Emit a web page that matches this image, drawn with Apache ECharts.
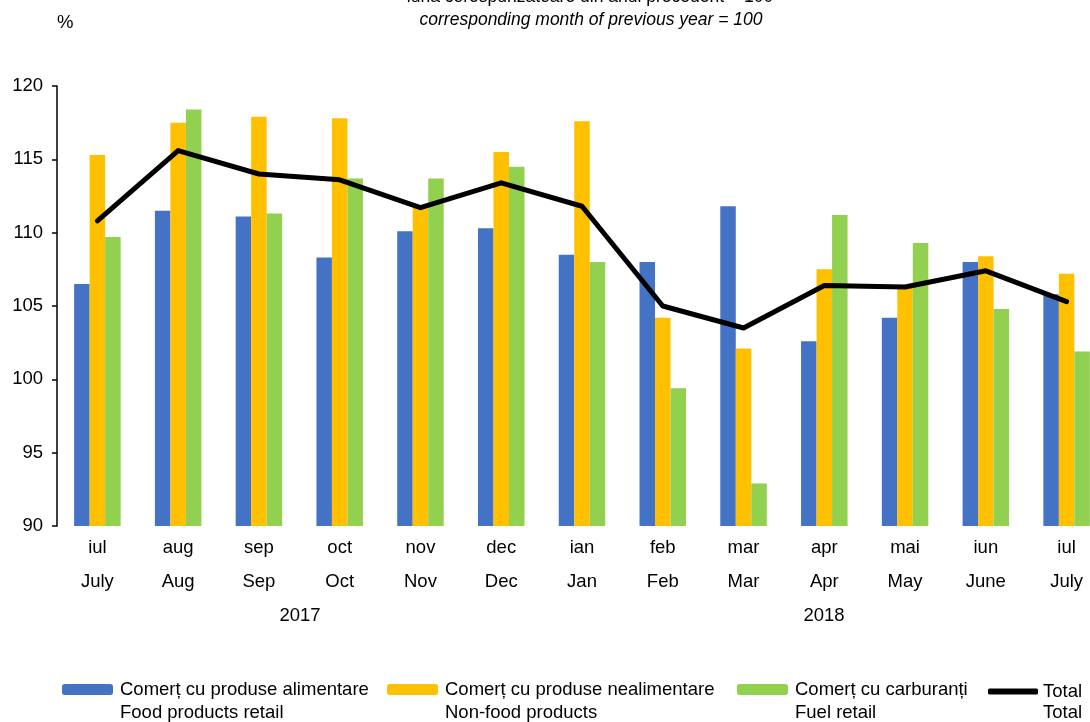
<!DOCTYPE html>
<html>
<head>
<meta charset="utf-8">
<script src="https://cdn.jsdelivr.net/npm/echarts@6/dist/echarts.min.js"></script>
<style>
  html, body { margin: 0; padding: 0; background: #fff; }
  #chart { width: 1090px; height: 722px; }
</style>
</head>
<body>
<div id="chart"></div>
<script>
// luni (ro / en)
const monthsRo = ['iul', 'aug', 'sep', 'oct', 'nov', 'dec', 'ian', 'feb', 'mar', 'apr', 'mai', 'iun', 'iul'];
const monthsEn = ['July', 'Aug', 'Sep', 'Oct', 'Nov', 'Dec', 'Jan', 'Feb', 'Mar', 'Apr', 'May', 'June', 'July'];
const years = ['2017', '2018'];

// valori, luna corespunzatoare din anul precedent = 100
const food = [106.5, 111.5, 111.1, 108.3, 110.1, 110.3, 108.5, 108.0, 111.8, 102.6, 104.2, 108.0, 105.8];
const nonFood = [115.3, 117.5, 117.9, 117.8, 111.8, 115.5, 117.6, 104.2, 102.1, 107.5, 106.3, 108.4, 107.2];
const fuel = [109.7, 118.4, 111.3, 113.7, 113.7, 114.5, 108.0, 99.4, 92.9, 111.2, 109.3, 104.8, 101.9];
const total = [110.8, 115.6, 114.0, 113.6, 111.7, 113.4, 111.8, 105.0, 103.5, 106.4, 106.3, 107.4, 105.3];

const yTicks = [90, 95, 100, 105, 110, 115, 120];

const seriesNames = [
  ['Comerț cu produse alimentare', 'Food products retail'],
  ['Comerț cu produse nealimentare', 'Non-food products'],
  ['Comerț cu carburanți', 'Fuel retail'],
  ['Total', 'Total']
];

const FONT = 'Liberation Sans, Arial, sans-serif';
const FS = 18.5;
const chart = echarts.init(document.getElementById('chart'));

// pozitii legenda
const legendX = [62, 387, 737, 988];

const option = {
  animation: false,
  textStyle: { fontFamily: FONT, color: '#000' },
  grid: { left: 57, top: 86, width: 1050, bottom: 196, outerBoundsMode: 'none', containLabel: false },
  legend: seriesNames.map((n, i) => ({
    data: [i === 3 ? { name: n[0], icon: 'roundRect' } : n[0]],
    left: legendX[i],
    top: i === 3 ? 682 : 680,
    itemWidth: i === 3 ? 50 : 51,
    itemHeight: i === 3 ? 6 : 11,
    itemGap: 0,
    padding: 0,
    selectedMode: false,
    textStyle: { fontSize: FS, color: '#000', fontFamily: FONT, padding: [0, 0, 0, i === 3 ? 0 : 2] }
  })),
  xAxis: {
    type: 'category',
    data: monthsRo,
    axisLine: { show: false },
    axisTick: { show: false },
    axisLabel: {
      interval: 0,
      margin: 5,
      fontSize: FS,
      lineHeight: 34,
      color: '#000',
      formatter: (v, i) => v + '\n' + monthsEn[i]
    }
  },
  yAxis: {
    type: 'value',
    min: yTicks[0],
    max: yTicks[yTicks.length - 1],
    interval: 5,
    splitLine: { show: false },
    axisLine: { show: true, lineStyle: { color: '#000', width: 1.5 } },
    axisTick: { show: true, length: 5, lineStyle: { color: '#000', width: 1.5 } },
    axisLabel: { fontSize: FS, color: '#000', margin: 14 }
  },
  graphic: [
    { type: 'text', x: 57, y: 23, style: { text: '%', font: FS + 'px ' + FONT, fill: '#000', verticalAlign: 'middle' } },
    { type: 'text', x: 590, y: -3, style: { text: 'luna corespunzătoare din anul precedent = 100', font: '17.5px ' + FONT, fill: '#000', align: 'center', verticalAlign: 'middle' } },
    { type: 'text', x: 591, y: 20, style: { text: 'corresponding month of previous year = 100', font: 'italic 17.5px ' + FONT, fill: '#000', align: 'center', verticalAlign: 'middle' } },
    { type: 'text', x: 300, y: 616, style: { text: years[0], font: FS + 'px ' + FONT, fill: '#000', align: 'center', verticalAlign: 'middle' } },
    { type: 'text', x: 824, y: 616, style: { text: years[1], font: FS + 'px ' + FONT, fill: '#000', align: 'center', verticalAlign: 'middle' } }
  ].concat(seriesNames.map((n, i) => ({
    type: 'text', x: i === 3 ? 1043 : legendX[i] + 58, y: 713,
    style: { text: n[1], font: FS + 'px ' + FONT, fill: '#000', verticalAlign: 'middle' }
  }))),
  series: [
    { name: seriesNames[0][0], type: 'bar', data: food, barWidth: 15.5, barGap: '0%', itemStyle: { color: '#4472C4' } },
    { name: seriesNames[1][0], type: 'bar', data: nonFood, barWidth: 15.5, barGap: '0%', itemStyle: { color: '#FFC000' } },
    { name: seriesNames[2][0], type: 'bar', data: fuel, barWidth: 15.5, barGap: '0%', itemStyle: { color: '#92D050' } },
    {
      name: seriesNames[3][0], type: 'line', data: total, symbol: 'none', z: 5,
      lineStyle: { color: '#000', width: 5, cap: 'round', join: 'round' },
      itemStyle: { color: '#000' }
    }
  ]
};
chart.setOption(option);
</script>
</body>
</html>
